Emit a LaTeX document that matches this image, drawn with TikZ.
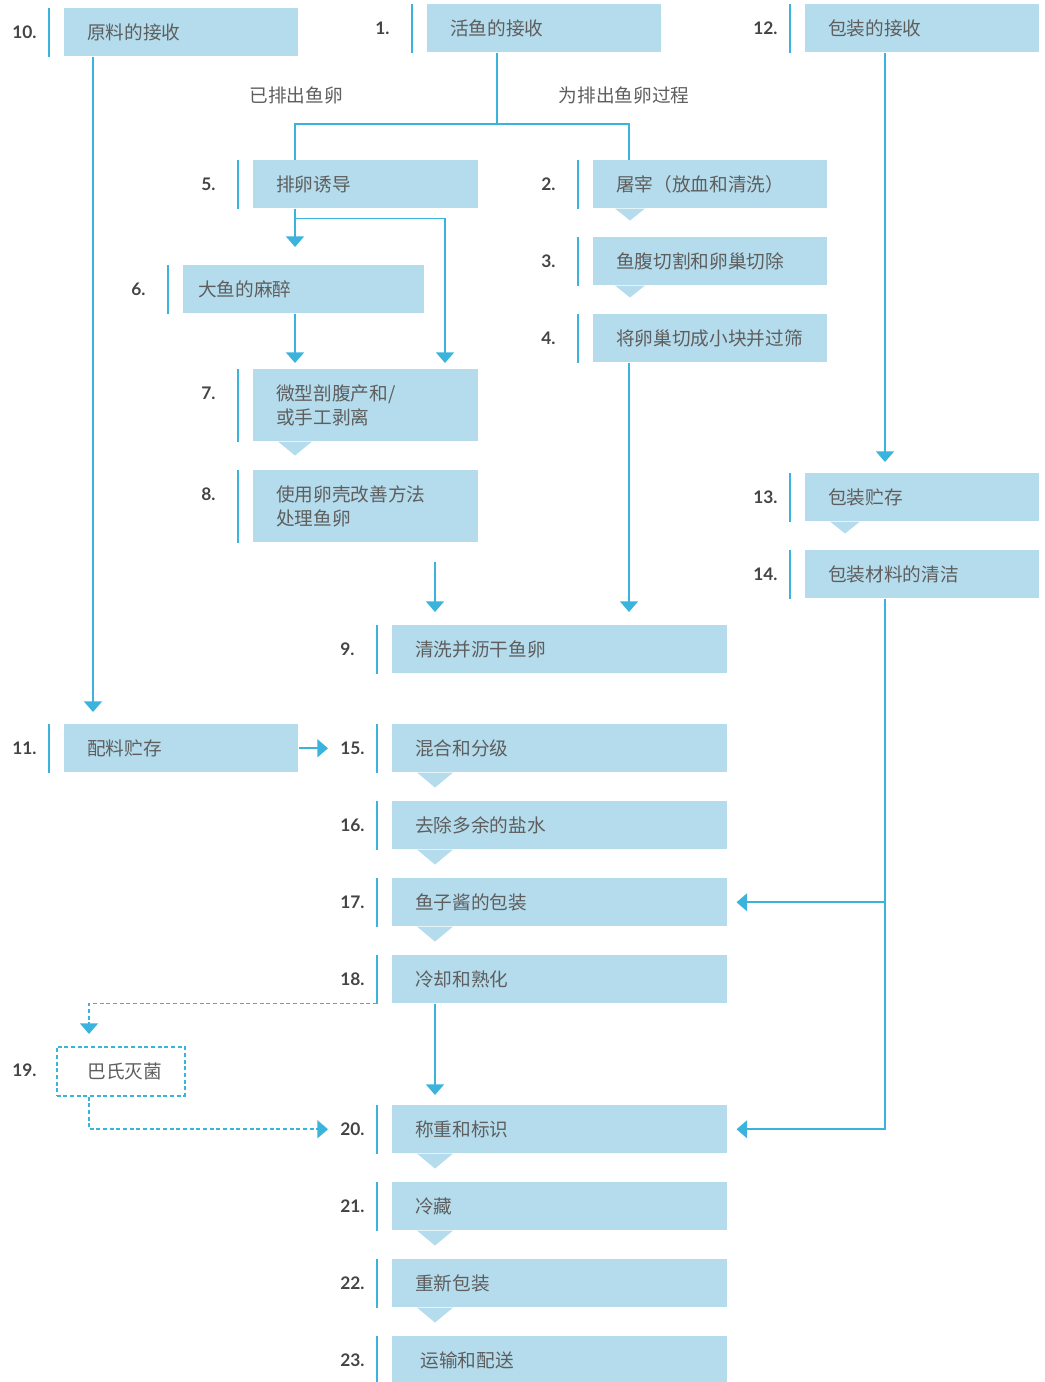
\documentclass[tikz,border=0pt]{standalone}
\usepackage{fontspec}
\setmainfont{Noto Sans CJK SC}
\newfontfamily\numfont{Lato}
\usetikzlibrary{arrows.meta,calc}
\definecolor{boxfill}{HTML}{B5DCEC}
\definecolor{linec}{HTML}{3AB4DC}
\definecolor{txt}{HTML}{5E5E5E}
\definecolor{numc}{HTML}{444444}

\begin{document}
\begin{tikzpicture}[x=0.75pt,y=-0.75pt,
  box/.style={fill=boxfill, anchor=north west, align=left, inner xsep=17.25pt,
    inner ysep=0pt, text=txt, font=\fontsize{14pt}{18pt}\selectfont, minimum height=36pt},
  w234/.style={text width=141pt},
  w225/.style={text width=134.25pt},
  w241/.style={text width=158.25pt, inner xsep=11.25pt},
  wmain/.style={text width=216.75pt},
  tall/.style={minimum height=54pt},
  sbox/.style={draw=linec, line width=1.2pt, dash pattern=on 3pt off 2pt, anchor=north west,
    minimum width=96pt, minimum height=36.75pt, inner sep=0pt, text=txt,
    font=\fontsize{14pt}{18pt}\selectfont},
  num/.style={anchor=west, text=numc, inner sep=0pt,
    font=\numfont\bfseries\fontsize{13pt}{15pt}\selectfont},
  lbl/.style={text=txt, inner sep=0pt, font=\fontsize{14pt}{18pt}\selectfont},
  bar/.style={draw=linec, line width=2.2pt},
  line/.style={draw=linec, line width=1.25pt},
  tip/.style={-{Triangle[width=13.5pt,length=8pt]}},
  arr/.style={line, tip},
  dline/.style={line, line width=1.2pt, dash pattern=on 3pt off 2pt}
]
\useasboundingbox (0,0) rectangle (1045,1382);

% ---- process steps ----
\node[box,w234] (b10) at (64,8) {原料的接收};
\node[box,w234] (b1) at (427,4) {活鱼的接收};
\node[box,w234] (b12) at (805,4) {包装的接收};
\node[box,w225] (b5) at (253,160) {排卵诱导};
\node[box,w234] (b2) at (593,160) {屠宰（放血和清洗）};
\node[box,w234] (b3) at (593,237) {鱼腹切割和卵巢切除};
\node[box,w234] (b4) at (593,314) {将卵巢切成小块并过筛};
\node[box,w241] (b6) at (183,265) {大鱼的麻醉};
\node[box,w225,tall] (b7) at (253,369) {微型剖腹产和/\\或手工剥离};
\node[box,w225,tall] (b8) at (253,470) {使用卵壳改善方法\\处理鱼卵};
\node[box,wmain] (b9) at (392,625) {清洗并沥干鱼卵};
\node[box,w234] (b11) at (64,724) {配料贮存};
\node[box,w234] (b13) at (805,473) {包装贮存};
\node[box,w234] (b14) at (805,550) {包装材料的清洁};
\node[box,wmain] (b15) at (392,724) {混合和分级};
\node[box,wmain] (b16) at (392,801) {去除多余的盐水};
\node[box,wmain] (b17) at (392,878) {鱼子酱的包装};
\node[box,wmain] (b18) at (392,955) {冷却和熟化};
\node[sbox] (b19) at (56,1046) {\hspace*{6pt}巴氏灭菌};
\node[box,wmain] (b20) at (392,1105) {称重和标识};
\node[box,wmain] (b21) at (392,1182) {冷藏};
\node[box,wmain] (b22) at (392,1259) {重新包装};
\node[box,wmain] (b23) at (392,1336) {\hspace*{4pt}运输和配送};

% ---- pointer notches under the steps ----
\foreach \n/\dx/\hw/\dp in {b2/37/15/12, b3/37/15/12, b7/42/17/14, b13/40/15/12,
    b15/43/18/15, b16/43/18/15, b17/43/18/15, b20/43/18/15, b21/43/18/15, b22/43/18/15}
  \fill[boxfill] ($(\n.south west)+(\dx-\hw,0)$) -- ($(\n.south west)+(\dx,\dp)$)
    -- ($(\n.south west)+(\dx+\hw,0)$) -- cycle;

% ---- side bars ----
\foreach \n in {b10,b1,b12,b5,b2,b3,b4,b6,b7,b8,b9,b11,b13,b14,b15,b16,b17,b18,b20,b21,b22,b23}
  \draw[bar] ($(\n.north west)+(-15,0)$) -- ($(\n.south west)+(-15,0)$);

% ---- step numbers ----
\foreach \n/\t in {b10/10., b1/1., b12/12., b5/5., b2/2., b3/3., b4/4., b6/6., b7/7., b8/8.,
    b9/9., b11/11., b13/13., b14/14., b15/15., b16/16., b17/17., b18/18., b20/20., b21/21.,
    b22/22., b23/23.}
  \node[num] (n-\n) at ($(\n.north west)+(-52,24)$) {\t};
\node[num] (n-b19) at ($(b19.north west)+(-44,24)$) {19.};

% ---- branch labels ----
\node[lbl] (l-yes) at (296,95) {已排出鱼卵};
\node[lbl] (l-no) at (624,95) {为排出鱼卵过程};

% ---- connectors ----
\draw[line] ($(b1.south west)+(70,0)$) |- ($(b5.north west)+(42,-36)$) -- ($(b5.north west)+(42,0)$);
\draw[line] ($(b1.south west)+(70,0)$) |- ($(b2.north west)+(36,-36)$) -- ($(b2.north west)+(36,0)$);

\draw[arr] ($(b5.south west)+(42,0)$) -- ($(b6.north west)+(112,-18)$);
\draw[arr] ($(b5.south west)+(42,10)$) -| ($(b7.north west)+(192,-6)$);
\draw[arr] ($(b6.south west)+(112,0)$) -- ($(b7.north west)+(42,-6)$);

\coordinate (c8) at ($(b8.south west)+(182,19)$);
\draw[arr] (c8) -- ($(b9.north west)+(43,-13)$);
\draw[arr] ($(b4.south west)+(36,0)$) -- ($(b9.north west)+(237,-13)$);

\draw[arr] ($(b10.south west)+(29,0)$) -- ($(b11.north west)+(29,-12)$);
\draw[arr] (b11.east) -- ($(b15.west)+(-64,0)$);

\draw[arr] ($(b12.south west)+(80,0)$) -- ($(b13.north west)+(80,-11)$);
\draw[arr] ($(b14.south west)+(80,0)$) |- ($(b17.east)+(9,0)$);
\draw[arr] ($(b14.south west)+(80,0)$) |- ($(b20.east)+(9,0)$);

\draw[arr] ($(b18.south west)+(43,0)$) -- ($(b20.north west)+(43,-10)$);
\draw[dline,tip] ($(b18.south west)+(-15,0)$) -| ($(b19.north west)+(33,-12)$);
\draw[dline,tip] ($(b19.south west)+(33,0)$) |- ($(b20.west)+(-64,0)$);
\end{tikzpicture}
\end{document}
